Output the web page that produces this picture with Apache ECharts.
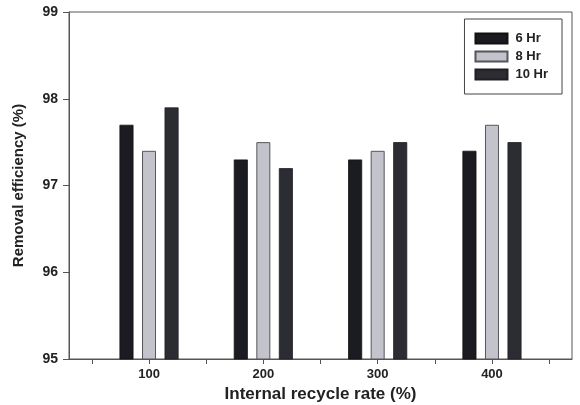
<!DOCTYPE html>
<html>
<head>
<meta charset="utf-8">
<script src="https://cdn.jsdelivr.net/npm/echarts@6/dist/echarts.min.js"></script>
<style>
  html, body { margin: 0; padding: 0; background: #fff; }
  #chart { width: 580px; height: 405px; }
</style>
</head>
<body>
<div id="chart"></div>
<script>
// Internal recycle rates (%) on the x axis
const recycleRates = [100, 200, 300, 400];
// Removal efficiency (%) for each hydraulic retention time
const eff6Hr  = [97.7, 97.3, 97.3, 97.4];
const eff8Hr  = [97.4, 97.5, 97.4, 97.7];
const eff10Hr = [97.9, 97.2, 97.5, 97.5];
const seriesNames = ['6 Hr', '8 Hr', '10 Hr'];
// Axis ticks and labels
const xTickValues = [50, 100, 150, 200, 250, 300, 350, 400, 450];
const xLabelValues = [100, 200, 300, 400];
const yTicks = [95, 96, 97, 98, 99];

const FONT = '"Liberation Sans", Arial, sans-serif';
const pairs = arr => recycleRates.map((r, i) => [r, arr[i]]);

const chart = echarts.init(document.getElementById('chart'), null, { renderer: 'canvas' });

const barStyles = [
  { color: '#1b1b22', borderColor: '#111', borderWidth: 0.8 },
  { color: '#c3c3cb', borderColor: '#55555c', borderWidth: 1 },
  { color: '#2c2c33', borderColor: '#1e1e24', borderWidth: 0.8 }
];
const data = [eff6Hr, eff8Hr, eff10Hr];

chart.setOption({
  animation: false,
  backgroundColor: '#fff',
  grid: {
    left: 69, top: 12, right: 8, bottom: 46,
    outerBoundsMode: 'none',
    containLabel: false,
    show: true, borderColor: '#555', borderWidth: 1
  },
  legend: {
    data: seriesNames,
    orient: 'vertical',
    right: 18, top: 19,
    width: 98,
    padding: [13, 14, 13, 10],
    itemWidth: 32, itemHeight: 10, itemGap: 5,
    icon: 'rect',
    borderColor: '#444', borderWidth: 1,
    backgroundColor: '#fff',
    textStyle: { fontFamily: FONT, fontWeight: 'bold', fontSize: 13, color: '#222', padding: [0, 0, 0, 3] }
  },
  xAxis: {
    type: 'value',
    min: 30, max: 470,
    name: 'Internal recycle rate (%)',
    nameLocation: 'middle',
    nameGap: 27,
    nameTextStyle: { fontFamily: FONT, fontWeight: 'bold', fontSize: 17, color: '#222' },
    axisLine: { show: true, lineStyle: { color: '#555', width: 1 } },
    axisTick: { show: true, inside: false, length: 5, lineStyle: { color: '#555' }, customValues: xTickValues },
    axisLabel: { customValues: xLabelValues, margin: 9, fontFamily: FONT, fontWeight: 'bold', fontSize: 13, color: '#222' },
    splitLine: { show: false }
  },
  yAxis: {
    type: 'value',
    min: 95, max: 99, interval: 1,
    name: 'Removal efficiency (%)',
    nameLocation: 'middle',
    nameGap: 43,
    nameTextStyle: { fontFamily: FONT, fontWeight: 'bold', fontSize: 15, color: '#222' },
    axisLine: { show: true, lineStyle: { color: '#555', width: 1 } },
    axisTick: { show: true, inside: false, length: 6, lineStyle: { color: '#555' }, customValues: yTicks },
    axisLabel: { customValues: yTicks, margin: 11, fontFamily: FONT, fontWeight: 'bold', fontSize: 14, color: '#222' },
    splitLine: { show: false }
  },
  series: seriesNames.map((name, i) => ({
    name,
    type: 'bar',
    barWidth: 14,
    barGap: '61%',
    data: pairs(data[i]),
    itemStyle: barStyles[i]
  }))
});
</script>
</body>
</html>
